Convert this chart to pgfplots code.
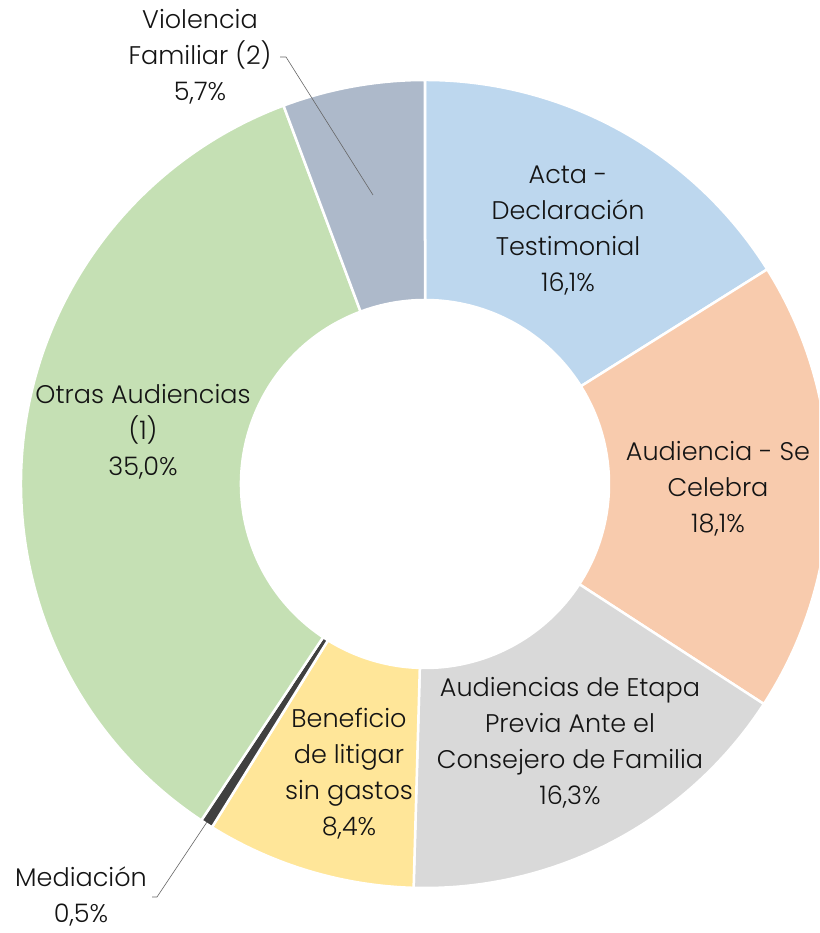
\documentclass[border=0pt]{standalone}
\usepackage{pgfplots}
\pgfplotsset{compat=1.18}
\usepackage{pgfplotstable}
\usepackage{fontspec}
\setmainfont{Poppins Light}
\definecolor{cActa}{HTML}{BDD7EE}
\definecolor{cCel}{HTML}{F8CBAD}
\definecolor{cEta}{HTML}{D9D9D9}
\definecolor{cBen}{HTML}{FFE699}
\definecolor{cMed}{HTML}{404040}
\definecolor{cOtr}{HTML}{C5E0B4}
\definecolor{cVio}{HTML}{ADB9CA}
\pgfplotstableread[col sep=comma]{
label,value
Acta,16.1
Celebra,18.1
Etapa,16.3
Beneficio,8.4
Mediacion,0.5
Otras,35.0
Violencia,5.7
}\datatable
\def\cx{425}\def\cy{449}\def\Ro{404}\def\Ri{184}
\gdef\cum{0}
\newcommand\slice[3]{%
 \pgfplotstablegetelem{#1}{value}\of\datatable
 \pgfmathsetmacro\aS{90-3.6*\cum/1.001}%
 \pgfmathsetmacro\newcum{\cum+\pgfplotsretval}%
 \xdef\cum{\newcum}%
 \pgfmathsetmacro\aE{90-3.6*\cum/1.001}%
 \pgfmathsetmacro\xS{\cx+\Ro*cos(\aS)}%
 \pgfmathsetmacro\yS{\cy+\Ro*sin(\aS)}%
 \pgfmathsetmacro\xE{\cx+\Ri*cos(\aE)}%
 \pgfmathsetmacro\yE{\cy+\Ri*sin(\aE)}%
 \edef\temp{\noexpand\filldraw[fill=#2, draw=#3, line width=2.5pt, line join=miter] (axis cs:\xS,\yS) arc[start angle=\aS, end angle=\aE, radius=\Ro pt] -- (axis cs:\xE,\yE) arc[start angle=\aE, end angle=\aS, radius=\Ri pt] -- cycle;}%
 \temp
}
\begin{document}
\begin{tikzpicture}
\begin{axis}[width=819pt,height=933pt,scale only axis,xmin=0,xmax=819,ymin=0,ymax=933,hide axis,clip=true]
\slice{0}{cActa}{white}
\slice{1}{cCel}{white}
\slice{2}{cEta}{white}
\slice{3}{cBen}{white}
\slice{4}{cMed}{white}
\slice{5}{cOtr}{white}
\slice{6}{cVio}{white}
\tikzset{lab/.style={align=center, text=black!92, font=\fontsize{25.5}{36}\selectfont}}
\node[lab] at (axis cs:568,702) {Acta -\\Declaración\\Testimonial\\16,1\%};
\node[lab] at (axis cs:718,444) {Audiencia - Se\\Celebra\\18,1\%};
\node[lab] at (axis cs:570,190) {Audiencias de Etapa\\Previa Ante el\\Consejero de Familia\\16,3\%};
\node[lab] at (axis cs:349,159) {Beneficio\\de litigar\\sin gastos\\8,4\%};
\node[lab] at (axis cs:143,501) {Otras Audiencias\\(1)\\35,0\%};
\node[lab] at (axis cs:200,876) {Violencia\\Familiar (2)\\5,7\%};
\node[lab] at (axis cs:81,37) {Mediación\\0,5\%};
\draw[black!60, line width=0.6pt] (axis cs:280,876) -- (axis cs:286,876) -- (axis cs:373,738);
\draw[black!60, line width=0.6pt] (axis cs:152,36) -- (axis cs:157,36) -- (axis cs:207,111);
\end{axis}
\pgfresetboundingbox
\path[use as bounding box] (0,0) rectangle (819pt,933pt);
\end{tikzpicture}
\end{document}
